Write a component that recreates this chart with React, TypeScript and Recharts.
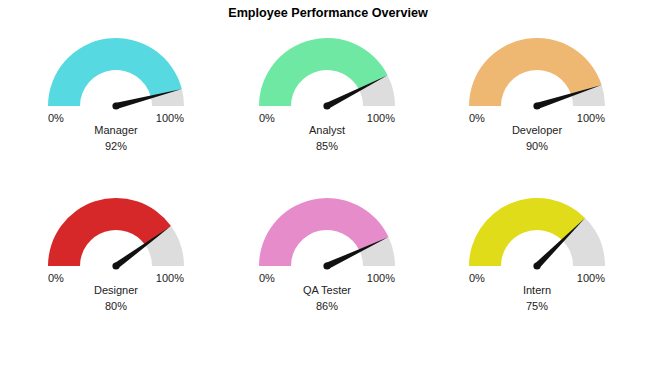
import { PieChart, Pie, Cell } from "recharts"

const employees = ['Manager', 'Analyst', 'Developer', 'Designer', 'QA Tester', 'Intern']
const scores = [92, 85, 90, 80, 86, 75]
const colors = ['#56d9e0', '#6ee8a2', '#eeb873', '#d62828', '#e68ccb', '#e1dc19']
const minLabel = '0%'
const maxLabel = '100%'

const RAD = Math.PI / 180
const textColor = '#222'
const font = 'Arial, "Liberation Sans", sans-serif'

function Gauge({ name, score, color }: { name: string; score: number; color: string }) {
  const data = [
    { name: 'score', value: score },
    { name: 'rest', value: 100 - score },
  ]

  // needle + captions drawn from the first sector's geometry
  const renderNeedle = (props: any) => {
    if (props.index !== 0) return null
    const { cx, cy, outerRadius, endAngle } = props
    const a = endAngle * RAD
    const tipX = cx + outerRadius * Math.cos(a)
    const tipY = cy - outerRadius * Math.sin(a)
    const w = 3.2
    const px = Math.sin(a) * w
    const py = Math.cos(a) * w
    return (
      <g>
        <path
          d={`M${cx - px},${cy - py} L${tipX},${tipY} L${cx + px},${cy + py} Z`}
          fill="#111"
        />
        <circle cx={cx} cy={cy} r={3.6} fill="#111" />
        <text x={cx - outerRadius} y={cy + 16} textAnchor="start" fontSize={11} style={{ fill: textColor }} fontFamily={font}>
          {minLabel}
        </text>
        <text x={cx + outerRadius} y={cy + 16} textAnchor="end" fontSize={11} style={{ fill: textColor }} fontFamily={font}>
          {maxLabel}
        </text>
        <text x={cx} y={cy + 28} textAnchor="middle" fontSize={11} style={{ fill: textColor }} fontFamily={font}>
          {name}
        </text>
        <text x={cx} y={cy + 44} textAnchor="middle" fontSize={11} style={{ fill: textColor }} fontFamily={font}>
          {score}%
        </text>
      </g>
    )
  }

  return (
    <PieChart width={210} height={130} margin={{ top: 0, right: 0, bottom: 0, left: 0 }}>
      <Pie
        data={data}
        dataKey="value"
        cx={105}
        cy={75}
        startAngle={180}
        endAngle={0}
        innerRadius={36}
        outerRadius={68}
        stroke="none"
        label={renderNeedle}
        labelLine={false}
        isAnimationActive={false}
      >
        <Cell fill={color} />
        <Cell fill="#dddddd" />
      </Pie>
    </PieChart>
  )
}

const colX = [116, 327, 537]
const rowY = [105.5, 266]

export default function App() {
  return (
    <div style={{ position: 'absolute', left: 0, top: 0, width: 650, height: 367, background: '#fff', fontFamily: font }}>
      <div
        style={{
          position: 'absolute',
          left: 0,
          width: 656,
          top: 5,
          textAlign: 'center',
          fontWeight: 'bold',
          fontSize: 12.6,
          lineHeight: '17px',
          color: '#000',
        }}
      >
        Employee Performance Overview
      </div>
      {employees.map((name, i) => (
        <div
          key={name}
          style={{
            position: 'absolute',
            left: colX[i % 3] - 105,
            top: rowY[Math.floor(i / 3)] - 75,
          }}
        >
          <Gauge name={name} score={scores[i]} color={colors[i]} />
        </div>
      ))}
    </div>
  )
}
